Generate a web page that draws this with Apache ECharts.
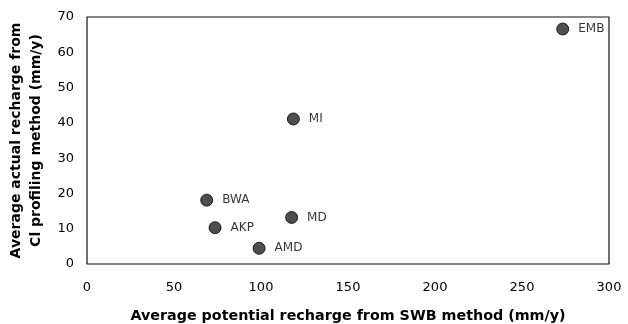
<!DOCTYPE html>
<html><head><meta charset="utf-8">
<script src="https://cdn.jsdelivr.net/npm/echarts@6/dist/echarts.min.js"></script>
<style>html,body{margin:0;padding:0;background:#fff}#c{width:628px;height:324px}</style>
</head><body><div id="c"></div>
<script>
const siteNames = ['BWA','AKP','AMD','MI','MD','EMB'];
const potentialRecharge = [68.8, 73.6, 98.9, 118.6, 117.6, 273.4];
const actualRecharge = [18.1, 10.3, 4.45, 41.1, 13.2, 66.6];
const xTicks = [0, 50, 100, 150, 200, 250, 300];
const yTicks = [0, 10, 20, 30, 40, 50, 60, 70];

const chart = echarts.init(document.getElementById('c'));
chart.setOption({
  animation: false,
  grid: {left: 87, right: 19, top: 17, bottom: 60, show: true, borderColor: '#111', borderWidth: 1.2,
    containLabel: false, outerBoundsMode: 'none'},
  xAxis: {
    type: 'value', min: xTicks[0], max: xTicks[xTicks.length-1], interval: 50,
    name: 'Average potential recharge from SWB method (mm/y)', nameLocation: 'middle', nameGap: 45,
    nameTextStyle: {fontFamily: 'DejaVu Sans', fontWeight: 'bold', fontSize: 14.3, color: '#000'},
    axisLine: {show: false}, axisTick: {show: false}, splitLine: {show: false},
    axisLabel: {fontFamily: 'DejaVu Sans', fontSize: 13, color: '#000', margin: 17}
  },
  yAxis: {
    type: 'value', min: yTicks[0], max: yTicks[yTicks.length-1], interval: 10,
    name: 'Average actual recharge from\nCl profiling method (mm/y)', nameLocation: 'middle', nameGap: 35,
    nameTextStyle: {fontFamily: 'DejaVu Sans', fontWeight: 'bold', fontSize: 14, color: '#000', lineHeight: 20},
    axisLine: {show: false}, axisTick: {show: false}, splitLine: {show: false},
    axisLabel: {fontFamily: 'DejaVu Sans', fontSize: 13, color: '#000', margin: 13}
  },
  series: [{
    type: 'scatter',
    symbolSize: 12,
    itemStyle: {color: '#222', borderColor: '#000', borderWidth: 1},
    label: {show: true, position: 'right', distance: 9, formatter: p => siteNames[p.dataIndex],
      fontFamily: 'DejaVu Sans', fontSize: 12, color: '#000'},
    data: potentialRecharge.map((x, i) => [x, actualRecharge[i]])
  }]
});
</script></body></html>
